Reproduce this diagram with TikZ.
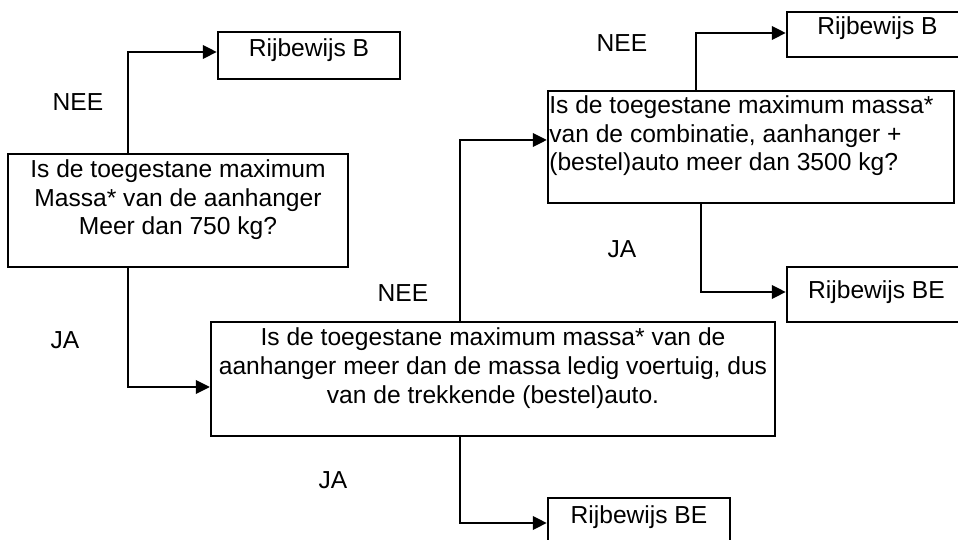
\documentclass[tikz,border=0pt]{standalone}
\usepackage{fontspec}
\setmainfont{Liberation Sans}
\usetikzlibrary{arrows.meta}

\tikzset{
    box/.style={draw, line width=1.4pt, inner sep=0pt},
    txt/.style={font=\fontsize{14}{16.3}\selectfont, inner sep=0pt, align=center},
    arr/.style={line width=1.1pt, -{Triangle[length=0.28cm, width=0.27cm]}},
}

\begin{document}
\begin{tikzpicture}[x=0.02cm, y=-0.02cm]
    \clip (0,0) rectangle (958,540);

    % Vakken
    \node[box, minimum width=3.64cm, minimum height=0.94cm] (rbB1) at (309,55.5) {};
    \node[box, minimum width=6.8cm, minimum height=2.26cm] (q1) at (178,210.5) {};
    \node[box, minimum width=11.28cm, minimum height=2.28cm] (q2) at (493,379) {};
    \node[box, minimum width=8.12cm, minimum height=2.24cm] (q3) at (751,147) {};
    \node[box, minimum width=3.62cm, minimum height=0.9cm] (rbB2) at (877.5,34.5) {};
    \node[box, minimum width=3.58cm, minimum height=1.1cm] (rbBE1) at (876.5,294.5) {};
    \node[box, minimum width=3.64cm, minimum height=0.94cm] (rbBE2) at (639,521.5) {};

    % Teksten
    \node[txt] (t1) at (309,50) {Rijbewijs B};
    \node[txt] (t2) at (178,200) {Is de toegestane maximum \\ Massa* van de aanhanger \\ Meer dan 750 kg?};
    \node[txt] (t3) at (493,368) {Is de toegestane maximum massa* van de \\
        aanhanger meer dan de massa ledig voertuig, dus \\ van de trekkende (bestel)auto.};
    \node[txt, align=left, anchor=west] (t4) at (549,136) {Is de toegestane maximum massa* \\
        van de combinatie, aanhanger + \\ (bestel)auto meer dan 3500 kg?};
    \node[txt] (t5) at (877.5,28) {Rijbewijs B};
    \node[txt] (t6) at (876.5,292) {Rijbewijs BE};
    \node[txt] (t7) at (639,517) {Rijbewijs BE};

    % Antwoorden
    \node[txt] (n1) at (78,102) {NEE};
    \node[txt] (n2) at (403,293) {NEE};
    \node[txt] (n3) at (622,43) {NEE};
    \node[txt] (j1) at (65,340) {JA};
    \node[txt] (j2) at (333,480) {JA};
    \node[txt] (j3) at (622,249) {JA};

    % Knikpunten
    \coordinate (k1) at (128,52);
    \coordinate (k2) at (128,387);
    \coordinate (k3) at (460,140);
    \coordinate (k4) at (696,33);
    \coordinate (k5) at (701,292);
    \coordinate (k6) at (460,523);

    % Pijlen
    \draw[arr] (q1.north -| k1) -- (k1) -- (k1 -| rbB1.west);
    \draw[arr] (q1.south -| k2) -- (k2) -- (k2 -| q2.west);
    \draw[arr] (q2.north -| k3) -- (k3) -- (k3 -| q3.west);
    \draw[arr] (q3.north -| k4) -- (k4) -- (k4 -| rbB2.west);
    \draw[arr] (q3.south -| k5) -- (k5) -- (k5 -| rbBE1.west);
    \draw[arr] (q2.south -| k6) -- (k6) -- (k6 -| rbBE2.west);
\end{tikzpicture}
\end{document}
